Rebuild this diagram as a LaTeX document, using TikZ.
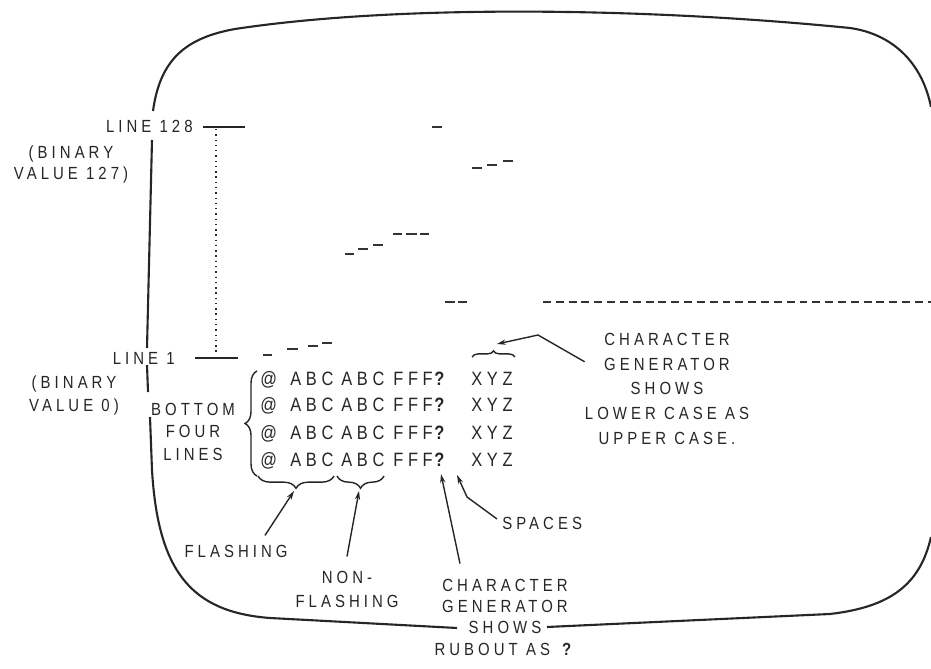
\documentclass[tikz,border=0pt]{standalone}
\usepackage{fontspec}
\newfontfamily\crtfont[FakeStretch=0.85,LetterSpace=23]{Liberation Sans}
\newfontfamily\rowfont[FakeStretch=0.85,LetterSpace=24]{Liberation Sans}
\usetikzlibrary{arrows.meta, decorations.pathreplacing}

\begin{document}
\begin{tikzpicture}[
		x=0.02cm, y=-0.02cm,
		screen/.style={line width=1.2pt, draw=black!85},
		scan/.style={line width=1.2pt, draw=black!80},
		tick/.style={line width=0.7pt, draw=black!85},
		lbl/.style={font=\crtfont\fontsize{10}{#1}\selectfont, text=black!85, align=center, inner sep=0pt, anchor=base},
		lbl/.default=12.5pt,
		chars/.style={font=\rowfont\fontsize{11}{12}\selectfont, text=black!85, inner sep=0pt, anchor=base west},
		curly/.style={line width=0.8pt, draw=black!85, decorate, decoration={brace, amplitude=#1}},
		arrow/.style={line width=0.8pt, draw=black!85, -{Stealth[length=5pt,width=3pt]}}
		]
		
		\fill[white] (0,0) rectangle (931,669);
		\useasboundingbox (0,0) rectangle (931,669);
		
		% Screen outline
		\draw[screen] (153,111) .. controls (160,60) and (185,38) .. (235,29)
		.. controls (400,4) and (650,8) .. (850,28)
		.. controls (892,34) and (922,62) .. (931,107);
		\draw[screen] (931,537) .. controls (920,585) and (890,607) .. (830,614)
		-- (547,627);
		\draw[screen] (457,628) -- (270,618) .. controls (190,612) and (158,570) .. (152,470) -- (150,417);
		\draw[screen] (148,392) -- (147,365);
		\draw[screen] (147,348) -- (152,140);
		
		% Scan lines
		\foreach \xa/\xb/\yy in {432/442/127, 472/482/168, 487/497/165, 503/513/161,
			345/354/254, 358/368/249, 373/383/245, 393/402/234, 406/417/234, 420/429/234,
			445/455/302, 458/467/302, 263/272/355, 287/298/349, 308/318/346, 322/332/343}
		\draw[scan] (\xa,\yy) -- (\xb,\yy);
		\draw[scan, dash pattern=on 4.5pt off 2.8pt] (543,302) -- (931,302);
		
		% Line labels
		\node[lbl, anchor=base east] (line128) at (193,133) {LINE 128};
		\node[lbl] (bin127) at (71,180) {(BINARY\\VALUE 127)};
		\node[lbl, anchor=base east] (line1) at (175,364) {LINE 1};
		\node[lbl=13.6pt] (bin0) at (74,412) {(BINARY\\VALUE 0)};
		\draw[tick] ([xshift=0.2cm]line128.east) -- ++(42,0);
		\draw[tick] ([xshift=0.4cm]line1.east) -- ++(43,0);
		\draw[tick, dash pattern=on 0.8pt off 2.2pt] (216,129) -- (216,355);
		
		% Bottom four lines
		\foreach \r in {1,...,4} {
			\pgfmathsetmacro\yb{358+27*\r}
			\node[chars] (at\r) at (260,\yb) {@};
			\node[chars] (abcA\r) at (290,\yb) {ABC};
			\node[chars] (abcB\r) at (341,\yb) {ABC};
			\node[chars] (fff\r) at (393,\yb) {FFF};
			\node[chars] (q\r) at (434,\yb) {\bfseries ?};
			\node[chars] (xyz\r) at (471,\yb) {XYZ};
		}
		\node[lbl=12.8pt] (bottom) at (193,460) {BOTTOM\\FOUR\\LINES};
		
		% Braces
		\draw[curly=6.8pt] (257,476) -- (257,371);
		\draw[curly=7pt, decoration={mirror}] (258,476) -- (334,476);
		\draw[curly=7pt, decoration={mirror}] (337,476) -- (384,476);
		\draw[curly=3.5pt] (472,357) -- (515,357);
		\coordinate (tipFlash) at (294,491);
		\coordinate (tipNon) at (359,491);
		\coordinate (tipXYZ) at (497,344);
		\coordinate (lcBend) at (538,335);
		\coordinate (gapTip) at (457,475);
		\coordinate (spBend) at (467,497);
		
		% Notes
		\node[lbl] (flash) at (236,557) {FLASHING};
		\node[lbl=13.6pt] (nonflash) at (347,607) {NON-\\FLASHING};
		\node[lbl=12.1pt] (rubout) at (505,655) {CHARACTER\\GENERATOR\\SHOWS\\RUBOUT AS \textbf{?}};
		\node[lbl, anchor=base west] (spaces) at (502,529) {SPACES};
		\node[lbl=14pt] (lower) at (667,444) {CHARACTER\\GENERATOR\\SHOWS\\LOWER CASE AS\\UPPER CASE.};
		
		% Arrows
		\draw[arrow] ([xshift=0.58cm,yshift=0.18cm]flash.north) -- (tipFlash);
		\draw[arrow] ([yshift=0.28cm]nonflash.north) -- (tipNon);
		\draw[arrow, shorten >=4.5pt] ([xshift=-0.9cm,yshift=0.3cm]rubout.north) -- (q4.south);
		\draw[arrow] ([xshift=-0.1cm,yshift=0.08cm]spaces.west) -- (spBend) -- (gapTip);
		\draw[arrow] ([yshift=0.54cm]lower.west) -- (lcBend) -- (tipXYZ);
		
	\end{tikzpicture}
\end{document}
